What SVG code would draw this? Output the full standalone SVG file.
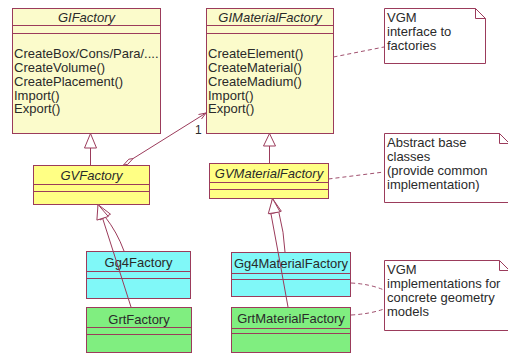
<svg xmlns="http://www.w3.org/2000/svg" width="508" height="354" viewBox="0 0 508 354">
  <style>
    text { font-family: "Liberation Sans", Arial, sans-serif; font-size: 13px; fill: #2a2a2a; }
    .name { text-anchor: middle; }
    .abstract { font-style: italic; }
    .box { stroke: #9b3b5b; stroke-width: 1; }
    .sep { stroke: #9b3b5b; stroke-width: 1; fill: none; }
    .iface { fill: #fbfbcb; }
    .base { fill: #ffff84; }
    .g4 { fill: #80f8f8; }
    .grt { fill: #80ee80; }
    .note { fill: #ffffff; stroke: #9b3b5b; stroke-width: 1; }
    .link { stroke: #9b3b5b; stroke-width: 1; fill: none; }
    .head { stroke: #9b3b5b; stroke-width: 1; fill: #ffffff; }
    .dash { stroke: #a0506e; stroke-width: 1; fill: none; stroke-dasharray: 4 3; }
  </style>

  <rect width="508" height="354" fill="#ffffff"/>

  <!-- interfaces -->
  <g id="GIFactory">
    <rect class="box iface" x="12.5" y="8.5" width="148" height="125"/>
    <path class="sep" d="M12.5 25.5H160.5M12.5 33.5H160.5"/>
    <text class="name abstract" x="86.5" y="22">GIFactory</text>
    <text x="14" y="58">CreateBox/Cons/Para/....</text>
    <text x="14" y="72">CreateVolume()</text>
    <text x="14" y="86">CreatePlacement()</text>
    <text x="14" y="99.5">Import()</text>
    <text x="14" y="113">Export()</text>
  </g>

  <g id="GIMaterialFactory">
    <rect class="box iface" x="206.5" y="8.5" width="127" height="125"/>
    <path class="sep" d="M206.5 25.5H333.5M206.5 33.5H333.5"/>
    <text class="name abstract" x="270" y="22">GIMaterialFactory</text>
    <text x="208" y="58">CreateElement()</text>
    <text x="208" y="72">CreateMaterial()</text>
    <text x="208" y="86">CreateMadium()</text>
    <text x="208" y="99.5">Import()</text>
    <text x="208" y="113">Export()</text>
  </g>

  <!-- abstract base classes -->
  <g id="GVFactory">
    <rect class="box base" x="33.5" y="165.5" width="116" height="39"/>
    <path class="sep" d="M33.5 184.5H149.5M33.5 191.5H149.5"/>
    <text class="name abstract" x="91.5" y="180">GVFactory</text>
  </g>

  <g id="GVMaterialFactory">
    <rect class="box base" x="209.5" y="163.5" width="119" height="35"/>
    <path class="sep" d="M209.5 182.5H328.5M209.5 189.5H328.5"/>
    <text class="name abstract" x="269" y="178">GVMaterialFactory</text>
  </g>

  <!-- concrete implementations -->
  <g id="Gg4Factory">
    <rect class="box g4" x="86.5" y="251.5" width="104" height="47"/>
    <path class="sep" d="M86.5 271.5H190.5M86.5 278.5H190.5"/>
    <text class="name" x="138.5" y="267">Gg4Factory</text>
  </g>

  <g id="GrtFactory">
    <rect class="box grt" x="86.5" y="307.5" width="105" height="45"/>
    <path class="sep" d="M86.5 327.5H191.5M86.5 334.5H191.5"/>
    <text class="name" x="139" y="324">GrtFactory</text>
  </g>

  <g id="Gg4MaterialFactory">
    <rect class="box g4" x="231.5" y="252.5" width="119" height="44"/>
    <path class="sep" d="M231.5 273.5H350.5M231.5 279.5H350.5"/>
    <text class="name" x="291" y="268">Gg4MaterialFactory</text>
  </g>

  <g id="GrtMaterialFactory">
    <rect class="box grt" x="231.5" y="307.5" width="119" height="45"/>
    <path class="sep" d="M231.5 328.5H350.5M231.5 333.5H350.5"/>
    <text class="name" x="291" y="323">GrtMaterialFactory</text>
  </g>

  <!-- notes -->
  <g id="note-interface">
    <path class="note" d="M384.5 8.5H475.5L485.5 18.5V63.5H384.5Z"/>
    <path class="link" d="M475.5 8.5V18.5H485.5"/>
    <text x="387" y="22">VGM</text>
    <text x="387" y="36">interface to</text>
    <text x="387" y="50">factories</text>
  </g>

  <g id="note-abstract">
    <path class="note" d="M384.5 133.5H499.5L509.5 143.5V202.5H384.5Z"/>
    <path class="link" d="M499.5 133.5V143.5H509.5"/>
    <text x="387" y="147">Abstract base</text>
    <text x="387" y="161">classes</text>
    <text x="387" y="175">(provide common</text>
    <text x="387" y="189">implementation)</text>
  </g>

  <g id="note-implementations">
    <path class="note" d="M384.5 260.5H499.5L509.5 270.5V330.5H384.5Z"/>
    <path class="link" d="M499.5 260.5V270.5H509.5"/>
    <text x="387" y="274">VGM</text>
    <text x="387" y="288">implementations for</text>
    <text x="387" y="302">concrete geometry</text>
    <text x="387" y="316">models</text>
  </g>

  <!-- connectors -->
  <g id="connectors">
    <!-- generalization: GVFactory -> GIFactory -->
    <path class="link" d="M90.5 148V165"/>
    <path class="head" d="M90.5 133.5L84.5 148L96.5 148Z"/>

    <!-- generalization: GVMaterialFactory -> GIMaterialFactory -->
    <path class="link" d="M269.5 146V163"/>
    <path class="head" d="M269.5 133.5L263.5 146L275.5 146Z"/>

    <!-- aggregation: GVFactory <>-> GIMaterialFactory -->
    <path class="link" d="M133 158.6L206 113"/>
    <path class="head" d="M123.5 165L128.8 159.2L133 158.6L127.7 164.4Z"/>
    <path class="link" d="M206 113L198.5 114.5M206 113L201.5 119"/>
    <text x="195" y="134" style="font-size:12px">1</text>

    <!-- generalizations: concrete geometry factories -> GVFactory -->
    <path class="link" d="M105.3 217.1Q117 232 124 251"/>
    <path class="head" d="M98 204.5L100 220L110.5 214.2Z"/>
    <path class="link" d="M102.6 218.3Q116 260 131 307"/>
    <path class="head" d="M98 204.5L96.9 220.1L108.3 216.5Z"/>

    <!-- generalizations: concrete material factories -> GVMaterialFactory -->
    <path class="link" d="M279 213Q284 232 285 252"/>
    <path class="head" d="M272.5 198.5L269.7 214L281.3 211.2Z"/>
    <path class="link" d="M271 214Q280 262 288 307"/>
    <path class="head" d="M272.5 198.5L268.3 213.7L280.1 211.9Z"/>

    <!-- note anchors -->
    <path class="dash" d="M333.5 57L384 47"/>
    <path class="dash" d="M328.5 179L384 172"/>
    <path class="dash" d="M351 283Q370 284 384 290"/>
    <path class="dash" d="M351 315Q370 314 384 309"/>
  </g>
</svg>
